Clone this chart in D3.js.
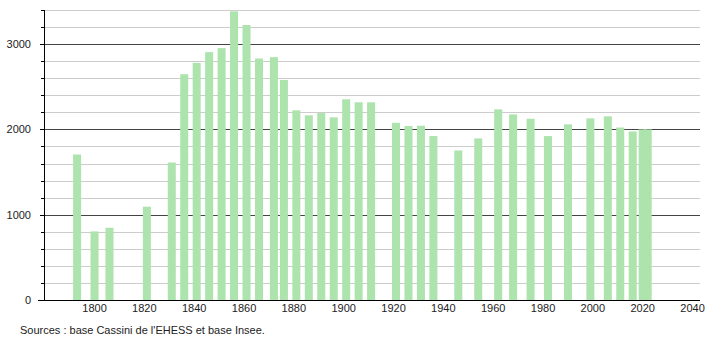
<!doctype html>
<html lang="fr">
<head>
  <meta charset="utf-8">
  <title>Population</title>
  <style>
    body { margin: 0; background: #fff; }
    text { font-family: "Liberation Sans", Arial, sans-serif; font-size: 11px; fill: #222; }
  </style>
</head>
<body>
  <div id="chart"></div>
  <script src="https://cdn.jsdelivr.net/npm/d3@7"></script>
  <script>
  // census years and population
  var years = [1793, 1800, 1806, 1821, 1831, 1836, 1841, 1846, 1851, 1856,
               1861, 1866, 1872, 1876, 1881, 1886, 1891, 1896, 1901, 1906,
               1911, 1921, 1926, 1931, 1936, 1946, 1954, 1962, 1968, 1975,
               1982, 1990, 1999, 2006, 2011, 2016, 2020, 2022];
  var population = [1706, 804, 847, 1094, 1612, 2647, 2780, 2906, 2953, 3384,
                    3224, 2831, 2847, 2580, 2224, 2165, 2192, 2141, 2353, 2318,
                    2318, 2078, 2039, 2043, 1922, 1753, 1894, 2235, 2176, 2125,
                    1922, 2059, 2129, 2153, 2022, 1976, 2000, 2000];
  var xTicks = [1800, 1820, 1840, 1860, 1880, 1900, 1920, 1940, 1960, 1980, 2000, 2020, 2040];
  var yTicks = [0, 1000, 2000, 3000];
  var source = "Sources : base Cassini de l'EHESS et base Insee.";

  (function() {
    var width = 710, height = 340;
    // plot area edges (note: "top" would clash with window.top)
    var pLeft = 44, pRight = 700, pTop = 10, pBottom = 300;

    var svg = d3.select("#chart").append("svg")
        .attr("width", width)
        .attr("height", height);

    var x = d3.scaleLinear().domain([1780, 2043]).range([44.7, pRight]);
    var y = d3.scaleLinear().domain([0, 3400]).range([pBottom, pTop]);

    // grid every 200, darker on thousands
    var grid = d3.range(200, 3401, 200);
    svg.append("g").selectAll("line")
      .data(grid)
      .enter().append("line")
        .attr("x1", pLeft).attr("x2", pRight)
        .attr("y1", function(d) { return Math.round(y(d)) + 0.5; })
        .attr("y2", function(d) { return Math.round(y(d)) + 0.5; })
        .attr("stroke", function(d) { return d % 1000 === 0 ? "#444" : "#ccc"; })
        .attr("stroke-width", 1);

    // bars
    var bw = 8;
    svg.append("g").selectAll("rect")
      .data(years)
      .enter().append("rect")
        .attr("x", function(d) { return x(d) - bw / 2; })
        .attr("width", bw)
        .attr("y", function(d, i) { return y(population[i]); })
        .attr("height", function(d, i) { return pBottom - y(population[i]); })
        .attr("fill", "#ade3ad");

    // y axis with small ticks
    var yAxis = svg.append("g");
    yAxis.append("line")
      .attr("x1", pLeft + 0.5).attr("x2", pLeft + 0.5)
      .attr("y1", pTop).attr("y2", pBottom)
      .attr("stroke", "#000");
    yAxis.selectAll(".tk")
      .data(grid)
      .enter().append("line")
        .attr("x1", function(d) { return d % 1000 === 0 ? pLeft - 4 : pLeft - 3; })
        .attr("x2", pLeft)
        .attr("y1", function(d) { return Math.round(y(d)) + 0.5; })
        .attr("y2", function(d) { return Math.round(y(d)) + 0.5; })
        .attr("stroke", "#000");
    yAxis.selectAll("text")
      .data(yTicks)
      .enter().append("text")
        .attr("x", 31)
        .attr("y", function(d) { return y(d) + 4; })
        .attr("text-anchor", "end")
        .text(function(d) { return d; });

    // x axis
    svg.append("line")
      .attr("x1", 38).attr("x2", pRight)
      .attr("y1", pBottom + 0.5).attr("y2", pBottom + 0.5)
      .attr("stroke", "#000");
    svg.append("g").selectAll("text")
      .data(xTicks)
      .enter().append("text")
        .attr("x", function(d) { return x(d); })
        .attr("y", 312)
        .attr("text-anchor", "middle")
        .text(function(d) { return d; });

    svg.append("text")
      .attr("x", 20)
      .attr("y", 334)
      .text(source);
  })();
  </script>
</body>
</html>
